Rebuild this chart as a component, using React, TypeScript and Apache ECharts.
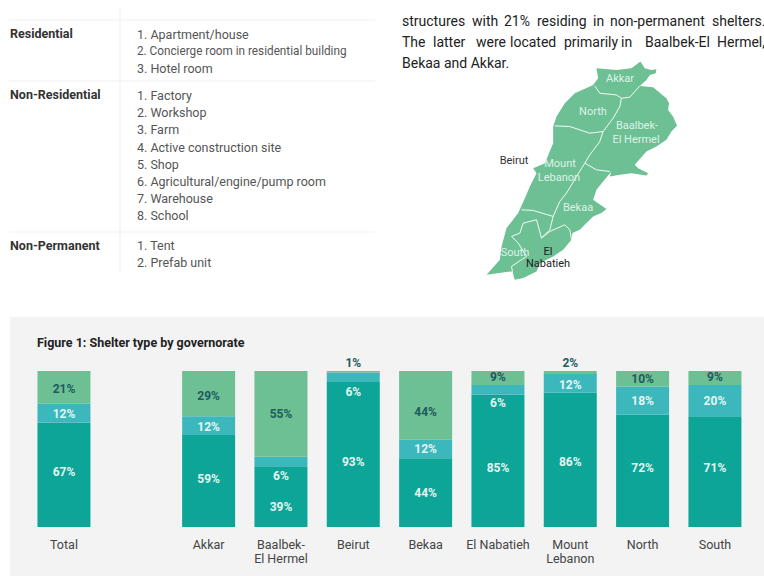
import React, { useEffect, useRef } from "react";
import * as echarts from "echarts";

const FONT = "Roboto, sans-serif";

const categories = ["Total", "", "Akkar", "Baalbek-\nEl Hermel", "Beirut", "Bekaa", "El Nabatieh", "Mount\nLebanon", "North", "South"];
const residential = [67, null, 59, 39, 93, 44, 85, 86, 72, 71];
const nonResidential = [12, null, 12, 6, 6, 12, 6, 12, 18, 20];
const nonPermanent = [21, null, 29, 55, 1, 44, 9, 2, 10, 9];

// hand-placed label nudges (px) as in the original figure
const residentialShift = [-3, 0, -2, 10, 8, 0, 7, 2, -3, -4];
const nonResidentialShift = [1, 0, 1, 14.5, 15, 0, 13, 1.5, 0, 0];
const nonPermanentShift = [1.5, 0, 2, 0, -9, 6.5, -1, -10, 0, -1];

const tableRows = [
  { head: "Residential", y: 33, items: [["1. Apartment/house", 34, 1], ["2. Concierge room in residential building", 51, 0.94], ["3. Hotel room", 68, 1]] },
  { head: "Non-Residential", y: 94.5, items: [["1. Factory", 95, 1], ["2. Workshop", 112.5, 1], ["3. Farm", 129.5, 1], ["4. Active construction site", 147, 1], ["5. Shop", 164.5, 1], ["6. Agricultural/engine/pump room", 181, 1], ["7. Warehouse", 198.5, 1], ["8. School", 215, 1]] },
  { head: "Non-Permanent", y: 245, items: [["1. Tent", 245.5, 1], ["2. Prefab unit", 262.5, 1]] },
];
const tableRules = [20, 81, 232];

const paragraphWords: [string, number, number][] = [
  ["structures", 402, 21], ["with", 472, 21], ["21%", 504, 21], ["residing", 537, 21], ["in", 593, 21], ["non-permanent", 610, 21], ["shelters.", 712, 21],
  ["The", 402, 42], ["latter", 433, 42], ["were", 476, 42], ["located", 510, 42], ["primarily", 564, 42], ["in", 621, 42], ["Baalbek-El", 645, 42], ["Hermel,", 717, 42],
  ["Bekaa and Akkar.", 402, 63],
];

const mapOutline = [[620,205],[680,210],[725,205],[752,185],[765,205],[785,210],[800,208],[798,220],[780,225],[770,240],[750,258],[790,262],[830,295],[838,310],[835,330],[850,350],[862,378],[845,395],[830,420],[800,440],[770,455],[735,495],[745,505],[775,520],[770,527],[725,520],[690,525],[660,530],[665,515],[640,545],[620,570],[610,600],[650,628],[635,640],[610,650],[590,670],[570,690],[548,700],[545,720],[520,750],[490,770],[450,790],[440,815],[400,835],[375,840],[365,815],[290,825],[330,780],[335,740],[350,685],[385,640],[405,595],[420,560],[440,520],[430,505],[465,490],[490,430],[490,380],[500,350],[525,310],[555,280],[610,255],[625,235]];
const mapBorders = [
  [[615,258],[630,280],[680,285],[695,295],[720,292],[750,258]],
  [[695,295],[690,320],[670,355],[640,395],[630,425],[600,465],[585,490]],
  [[495,378],[540,380],[600,400],[640,395]],
  [[585,490],[620,510],[660,515]],
  [[585,490],[560,530],[530,580],[510,605],[490,650],[480,690]],
  [[395,630],[430,632],[490,650]],
  [[480,690],[455,715],[440,660],[400,670],[390,700],[365,710],[385,730],[410,770],[365,800],[370,830]],
  [[455,715],[480,695],[525,675],[540,690],[545,720]],
];
const mapLabels: [string, number, number, string][] = [
  ["Akkar", 620, 78, "#dff2e8"], ["North", 593, 111, "#dff2e8"], ["Baalbek-", 637, 125, "#dff2e8"], ["El Hermel", 636, 139, "#dff2e8"],
  ["Beirut", 514, 160, "#333"], ["Mount", 560, 163, "#dff2e8"], ["Lebanon", 559, 177, "#dff2e8"], ["Bekaa", 578, 207, "#dff2e8"],
  ["South", 515, 252, "#dff2e8"], ["El", 548, 251, "#222"], ["Nabatieh", 548, 263, "#222"],
];

function txt(text: string, x: number, y: number, font: string, fill: string, align = "left", scaleX = 1) {
  return { type: "text", x, y, scaleX, silent: true, style: { text, font, fill, align, verticalAlign: "middle" } };
}

function seriesOf(name: string, values: (number | null)[], shifts: number[], color: string, labelColor: string) {
  return {
    name, type: "bar", stack: "share", barWidth: 53, itemStyle: { color },
    data: values.map((value, i) => ({ value, label: { offset: [0, shifts[i]] } })),
    label: {
      show: true, position: "inside", formatter: "{c}%", color: labelColor,
      fontFamily: FONT, fontWeight: "bold", fontSize: 12,
    },
  };
}

export default function App() {
  const ref = useRef<HTMLDivElement>(null);
  useEffect(() => {
    const chart = echarts.init(ref.current!, null, { renderer: "svg" });
    const graphics: any[] = [
      { type: "rect", z: 0, silent: true, shape: { x: 10, y: 317, width: 754, height: 259 }, style: { fill: "#f3f3f3" } },
      { type: "line", silent: true, shape: { x1: 120, y1: 7, x2: 120, y2: 273 }, style: { stroke: "#f1f1f1", lineWidth: 1 } },
      ...tableRules.map((y) => ({ type: "line", silent: true, shape: { x1: 9, y1: y, x2: 375, y2: y }, style: { stroke: "#f1f1f1", lineWidth: 1 } })),
      ...tableRows.flatMap((r) => [
        txt(r.head, 10, r.y, `bold 12.5px ${FONT}`, "#333"),
        ...r.items.map(([t, y, s]) => txt(t as string, 137, y as number, `12.5px ${FONT}`, "#555", "left", s as number)),
      ]),
      ...paragraphWords.map(([t, x, y]) => txt(t, x, y, `14px ${FONT}`, "#222")),
      {
        type: "group", x: 390, y: 0, scaleX: 1 / 3, scaleY: 1 / 3, silent: true,
        children: [
          { type: "polygon", shape: { points: mapOutline }, style: { fill: "#6cc094" } },
          ...mapBorders.map((points) => ({ type: "polyline", shape: { points }, style: { stroke: "#f4fbf7", lineWidth: 3, fill: "none" } })),
        ],
      },
      ...mapLabels.map(([t, x, y, c]) => txt(t, x, y, `11px ${FONT}`, c, "center")),
    ];
    chart.setOption({
      animation: false,
      backgroundColor: "#fff",
      title: {
        text: "Figure 1: Shelter type by governorate", left: 37, top: 336, padding: 0,
        textStyle: { fontFamily: FONT, fontWeight: "bold", fontSize: 12.5, color: "#222" },
      },
      grid: { left: 27.8, top: 371, width: 723.3, height: 156 },
      xAxis: {
        type: "category", data: categories,
        axisLine: { show: false }, axisTick: { show: false },
        axisLabel: { interval: 0, margin: 10.5, fontFamily: FONT, fontSize: 12.5, lineHeight: 14, color: "#444" },
      },
      yAxis: { type: "value", min: 0, max: 100, show: false, splitLine: { show: false } },
      series: [
        seriesOf("Residential", residential, residentialShift, "#0ca597", "#e6f5f2"),
        seriesOf("Non-Residential", nonResidential, nonResidentialShift, "#3cb8bd", "#e6f5f2"),
        seriesOf("Non-Permanent", nonPermanent, nonPermanentShift, "#6cc094", "#1f5a5e"),
      ],
      graphic: graphics,
    });
    return () => chart.dispose();
  }, []);
  return <div ref={ref} style={{ position: "absolute", left: 0, top: 0, width: 764, height: 576 }} />;
}
